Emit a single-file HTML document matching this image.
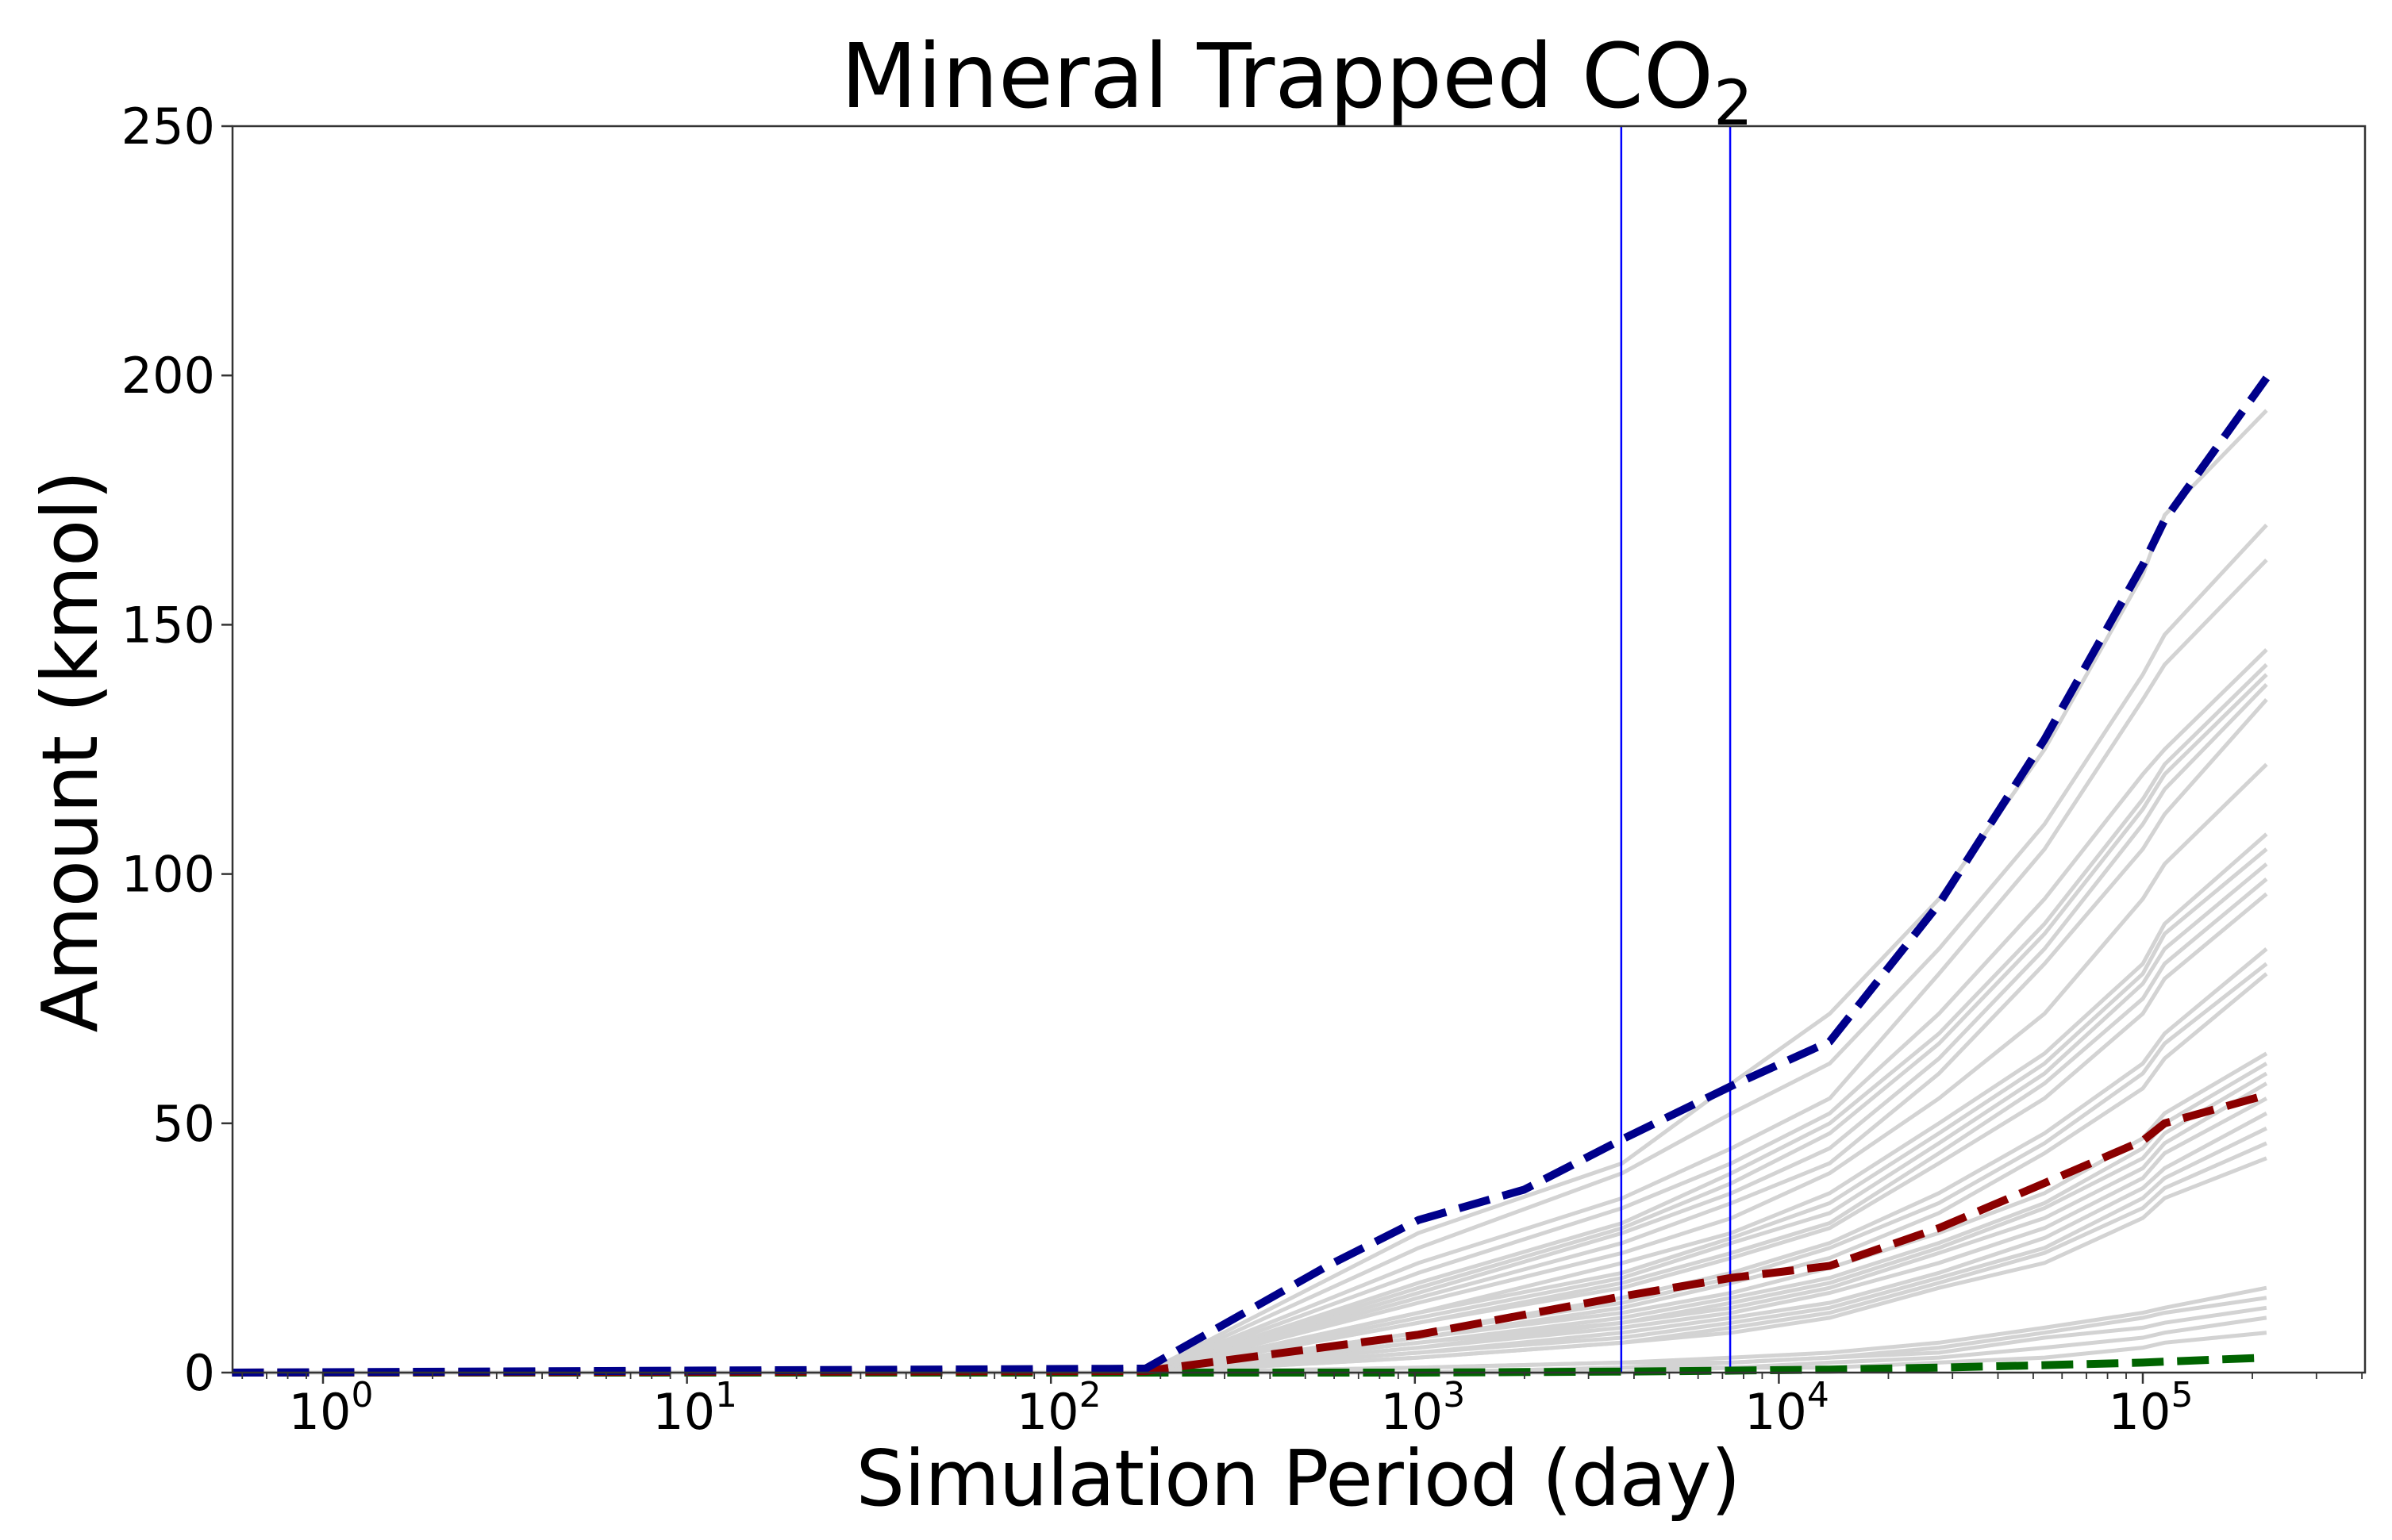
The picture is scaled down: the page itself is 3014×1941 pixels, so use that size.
<!DOCTYPE html>
<html><head><meta charset="utf-8"><style>
html,body{margin:0;padding:0;background:#fff;}
svg{display:block;font-family:"DejaVu Sans","Liberation Sans",sans-serif;}
</style></head><body>
<svg id="chart" width="3014" height="1941" viewBox="0 0 3014 1941" xmlns="http://www.w3.org/2000/svg">
<rect width="3014" height="1941" fill="#fff"/>
<text x="1634" y="135" font-size="112" text-anchor="middle">Mineral Trapped CO<tspan font-size="78" dy="22">2</tspan></text>
<g id="grey"></g>
<g id="vlines"></g>
<g id="main"></g>
<g id="axes"></g>
<text x="1636" y="1897" font-size="97" text-anchor="middle" textLength="1115">Simulation Period (day)</text>
<text transform="translate(122,947) rotate(-90)" font-size="97" text-anchor="middle" textLength="709">Amount (kmol)</text>
</svg>
<script>
const logTimes = [-0.25, 2.26, 3.01, 3.57, 3.87, 4.14, 4.44, 4.73, 5.0, 5.06, 5.34];
const blueValues = [0, 0.8, 30.6, 46.8, 57.5, 66.4, 94, 127, 162, 171, 199.5];
const redValues = [0, 0.3, 7.6, 15.3, 19, 21.4, 29, 38, 46.5, 50, 55.7];
const greenValues = [0, 0, 0, 0.2, 0.4, 0.6, 1.0, 1.5, 2.0, 2.2, 3.0];
const blueExtraLog = [2.76, 3.3];
const blueExtraVal = [21.4, 36.7];
const greyValues = [
[0,0,28,42,58,72,95,125,160,172,193],
[0,0,25,40,52,62,85,110,140,148,170],
[0,0,22,35,45,55,80,105,135,142,163],
[0,0,20,33,42,52,72,95,120,125,145],
[0,0,18,30,40,50,68,90,115,122,142],
[0,0,17,29,38,48,66,88,113,120,140],
[0,0,16,28,36,45,63,85,110,117,138],
[0,0,15,26,34,42,60,82,105,112,135],
[0,0,14,24,31,40,55,72,95,102,122],
[0,0,12,22,28,36,50,64,82,90,108],
[0,0,12,20,27,34,48,62,80,88,105],
[0,0,11,19,26,32,46,60,78,85,102],
[0,0,10,18,24,30,44,58,75,82,99],
[0,0,10,17,23,29,42,55,72,79,96],
[0,0,8,15,20,26,36,48,62,68,85],
[0,0,8,14,19,25,34,46,60,66,82],
[0,0,7,13,18,23,32,44,57,63,80],
[0,0,7,12,16,21,28,36,47,52,64],
[0,0,6,11,15,19,26,34,45,50,62],
[0,0,6,10,14,18,25,33,43,48,60],
[0,0,5,10,13,17,24,31,41,46,58],
[0,0,5,9,12,16,22,29,39,44,55],
[0,0,4,8,11,14,20,27,37,41,52],
[0,0,4,7,10,13,19,25,35,39,49],
[0,0,3,6,9,12,18,24,33,37,46],
[0,0,3,6,8,11,17,22,31,35,43],
[0,0,1,2,3,4,6,9,12,13,17],
[0,0,1,2,2,3,5,8,11,12,15],
[0,0,0,1,2,3,4,7,9,10,13],
[0,0,0,1,1,2,3,5,7,8,11],
[0,0,0,0,1,1,2,3,5,6,8]
];
const vlineDays = [3690, 7350];
const yTicks = [0, 50, 100, 150, 200, 250];
const xDecades = [0, 1, 2, 3, 4, 5];

const NS = "http://www.w3.org/2000/svg";
const L = 293, R = 2980, T = 159, B = 1730;
const X0 = 407, DEC = 458.6;
function xs(lg){ return X0 + lg*DEC; }
function ys(v){ return B - v*(B-T)/250; }
function mk(tag, attrs, parent){ const e=document.createElementNS(NS,tag); for(const k in attrs) e.setAttribute(k,attrs[k]); parent.appendChild(e); return e; }
function pts(lx, vals){ return lx.map((l,i)=>xs(l).toFixed(1)+","+ys(vals[i]).toFixed(1)).join(" "); }

const grey = document.getElementById("grey");
greyValues.forEach((s,i)=>{
  const p = mk("polyline",{points:pts(logTimes,s),fill:"none",stroke:"#d3d3d3","stroke-width":5},grey);
  
  
});

const vg = document.getElementById("vlines");
vlineDays.forEach(d=>{
  const x = xs(Math.log10(d));
  const l = mk("line",{x1:x,x2:x,y1:T,y2:B,stroke:"#0000ff","stroke-width":2.5},vg);
  
  
});

const main = document.getElementById("main");
const bl = logTimes.concat(blueExtraLog), bv = blueValues.concat(blueExtraVal);
const order = bl.map((_,i)=>i).sort((a,b)=>bl[a]-bl[b]);
const blueL = order.map(i=>bl[i]), blueV = order.map(i=>bv[i]);
[[logTimes,greenValues,"#006400","green-dashed-line"],[logTimes,redValues,"#8b0000","red-dashed-line"],[blueL,blueV,"#00008b","blue-dashed-line"]].forEach(([lx,v,c,n])=>{
  const p = mk("polyline",{points:pts(lx,v),fill:"none",stroke:c,"stroke-width":10,"stroke-dasharray":"40 17","stroke-linejoin":"miter"},main);
  
  
});

const ax = document.getElementById("axes");
const frame = mk("rect",{x:L,y:T,width:R-L,height:B-T,fill:"none",stroke:"#333","stroke-width":2.5},ax);


yTicks.forEach(v=>{
  const y = ys(v);
  mk("line",{x1:L-14,x2:L,y1:y,y2:y,stroke:"#333","stroke-width":2.5},ax);
  const t = mk("text",{x:L-22,y:y+22,"font-size":62,"text-anchor":"end"},ax);
  t.textContent = v;
  
  
});
for(let d=-1; d<=5; d++){
  for(let m=1; m<10; m++){
    const lg = d + Math.log10(m);
    const x = xs(lg);
    if(x<L||x>R) continue;
    mk("line",{x1:x,x2:x,y1:B,y2:B+(m===1?14:8),stroke:"#333","stroke-width":m===1?2.5:1.8},ax);
  }
}
xDecades.forEach(d=>{
  const x = xs(d);
  const t = mk("text",{x:x+10,y:1801,"font-size":62,"text-anchor":"middle"},ax);
  
  
  t.textContent = "10";
  const s = document.createElementNS(NS,"tspan");
  s.setAttribute("font-size","44"); s.setAttribute("dy","-28");
  s.textContent = d;
  t.appendChild(s);
});
</script>
</body></html>
